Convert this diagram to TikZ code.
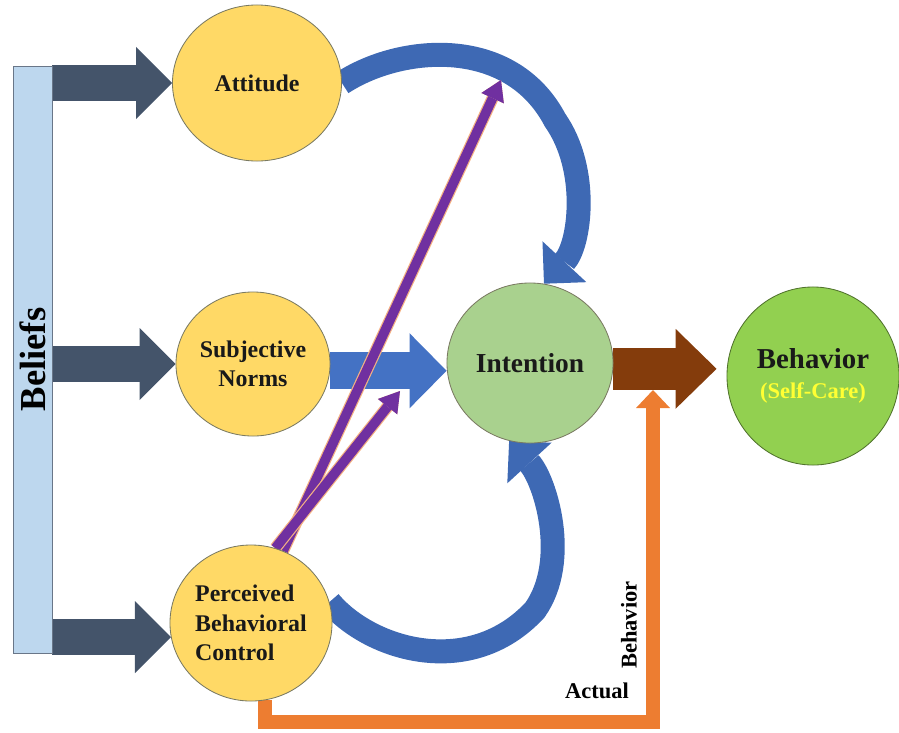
\documentclass[tikz,border=0pt]{standalone}
\usepackage{fontspec}
\setmainfont{Liberation Serif}
\usetikzlibrary{shapes.geometric,arrows.meta,backgrounds}
\definecolor{belief}{HTML}{BDD7EE}
\definecolor{slate}{HTML}{44546A}
\definecolor{sun}{HTML}{FFD966}
\definecolor{sage}{HTML}{A9D18E}
\definecolor{leaf}{HTML}{92D050}
\definecolor{royal}{HTML}{4472C4}
\definecolor{grape}{HTML}{7030A0}
\definecolor{rust}{HTML}{843C0C}
\definecolor{tang}{HTML}{ED7D31}
\definecolor{lemon}{HTML}{FFFF33}
\definecolor{rim}{HTML}{7A7A62}

\begin{document}
\begin{tikzpicture}[x=0.025cm,y=-0.025cm,
  circ/.style={ellipse,draw=rim,line width=0.6pt,align=center,inner sep=0pt,
               font=\fontsize{17}{21}\selectfont\bfseries,text=black!90},
  darr/.style={slate,line width=0.9cm,
               -{Triangle[length=0.9cm,width=1.8cm,line width=0pt]}},
  barr/.style={royal!92!black,line width=0.6cm,
               -{Triangle[length=0.75cm,width=1.5cm,line width=0pt]}},
  parr/.style={grape,line width=0.24cm,preaction={draw=tang!60,line width=0.3cm},
               -{Triangle[length=0.5cm,width=0.62cm,line width=0pt]}},
  lbl/.style={font=\fontsize{16}{19}\selectfont\bfseries,inner sep=0pt}
]
\useasboundingbox (0,0) rectangle (899,732);

% Beliefs bar
\node[draw=slate!80,fill=belief,line width=0.6pt,minimum width=0.975cm,
  minimum height=14.675cm,inner sep=0pt,font=\fontsize{26}{30}\selectfont\bfseries]
  (beliefs) at (32.5,359.5) {\rotatebox{90}{Beliefs}};

% circles
\node[circ,fill=sun,minimum width=4.225cm,minimum height=3.9cm] (att) at (257,83) {Attitude};
\node[circ,fill=sun,minimum width=3.85cm,minimum height=3.6cm] (sn) at (253,364) {Subjective\\Norms};
\node[circ,fill=sun,minimum width=4.05cm,minimum height=3.9cm,align=left] (pbc) at (251,623)
  {Perceived\\Behavioral\\Control};
\node[circ,fill=sage,minimum width=4.15cm,minimum height=4cm,
  font=\fontsize{19.5}{23}\selectfont\bfseries] (int) at (530,363) {Intention};
\node[circ,fill=leaf,draw=leaf!55!black,minimum width=4.3cm,minimum height=4.45cm,
  font=\fontsize{20.5}{21}\selectfont\bfseries] (beh) at (813,376)
  {Behavior\\{\fontsize{16}{21}\selectfont\color{lemon}(Self-Care)}};

% labels
\node[lbl] (actual) at (597,691) {Actual};
\node[lbl,rotate=90] (actbeh) at (629,625) {Behavior};

\coordinate (tipA) at (501,80);
\coordinate (tipB) at (400,391);
\coordinate (actTip) at (653,390);
\coordinate (actCorner) at (653,722);

\begin{scope}[on background layer]
% actual behavior
\draw[tang,line width=0.35cm,-{Triangle[length=0.45cm,width=0.85cm,line width=0pt]}]
  (pbc.-80) |- (actCorner) -- (actTip);

% beliefs arrows
\draw[darr] (beliefs.east |- att.west) -- (att.west);
\draw[darr] (beliefs.east |- sn.west) -- (sn.west);
\draw[darr] (beliefs.east |- pbc.190) -- (pbc.190);

% into intention
\draw[barr,royal,line width=0.925cm,-{Triangle[length=0.925cm,width=1.875cm,line width=0pt]}]
  (sn.-5) -- (sn.-5 -| int.west);
\draw[barr] (att.east) .. controls (400,45) and (510,35) .. (555,120)
  .. controls (590,170) and (580,245) .. (int.80);
\draw[barr] (pbc.15) .. controls (370,650) and (470,680) .. (535,610)
  .. controls (570,560) and (545,480) .. (int.255);

% control
\draw[parr] (pbc.66) -- (tipA);
\draw[parr] (pbc.72) -- (tipB);

% intention to behavior
\draw[rust,line width=1.05cm,-{Triangle[length=1.025cm,width=2cm,line width=0pt]},
  shorten >=0.25cm] (int.-4) -- (int.-4 -| beh.west);
\end{scope}
\end{tikzpicture}
\end{document}
